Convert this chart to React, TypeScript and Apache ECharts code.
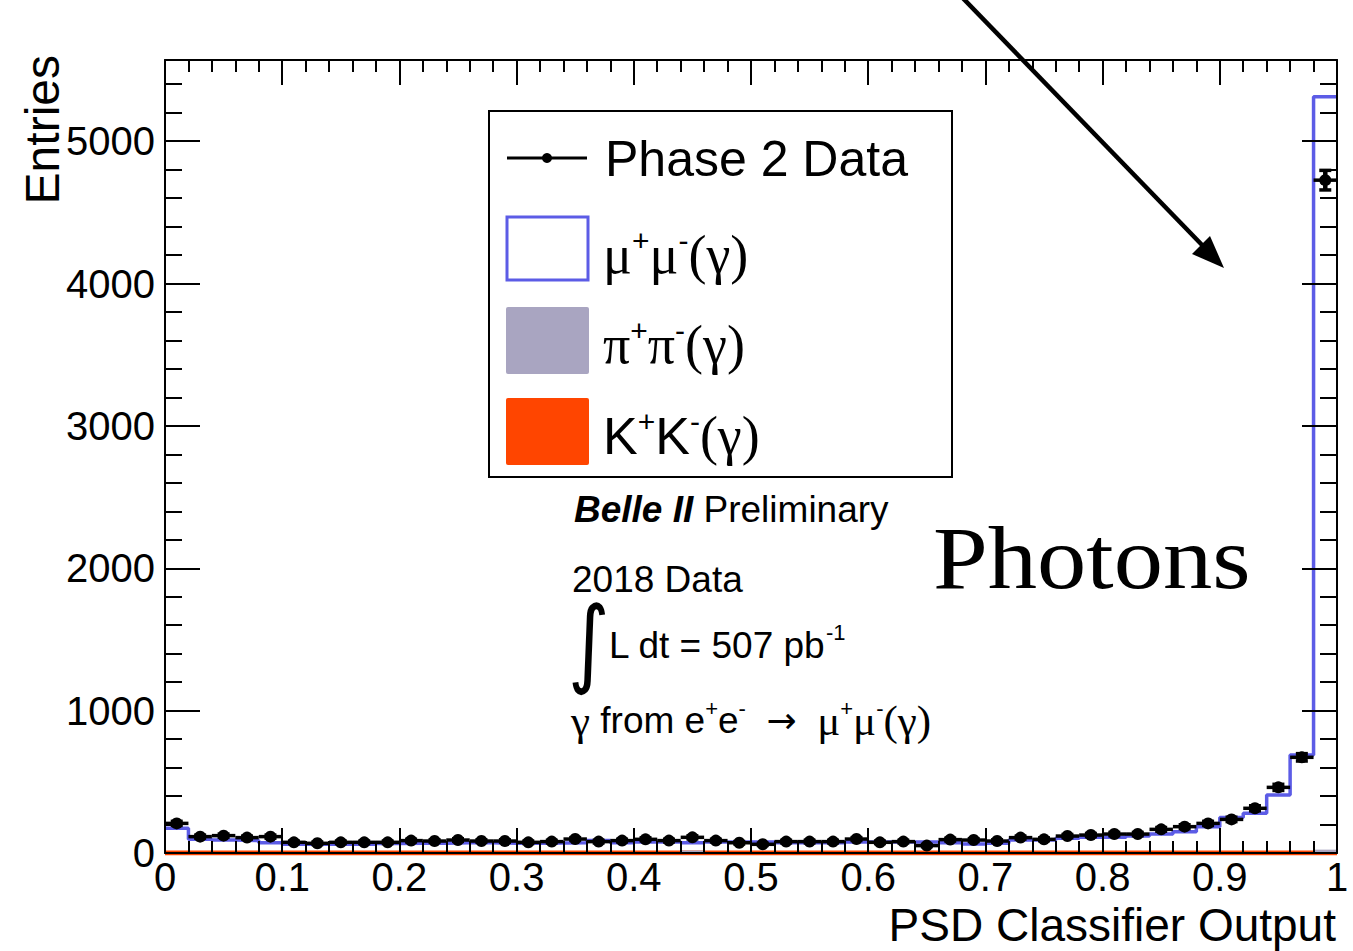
import React, { useEffect, useRef } from 'react';
import * as echarts from 'echarts';

// ---------- data ----------
const BIN_WIDTH = 0.02;
// Phase 2 data, entries per bin (50 bins from 0 to 1)
const dataCounts = [
  208, 115, 122, 108, 115, 75, 68, 75, 75, 75,
  87, 84, 91, 84, 84, 75, 80, 98, 80, 87,
  96, 87, 110, 87, 72, 61, 80, 80, 80, 98,
  75, 80, 52, 94, 91, 84, 108, 96, 119, 126,
  133, 133, 166, 185, 208, 236, 314, 461, 672, 4726,
];
// mu+mu-(gamma) simulation (stacked total, outline)
const mumuCounts = [
  173, 96, 91, 87, 72, 61, 61, 61, 61, 66,
  68, 68, 72, 72, 68, 68, 70, 72, 88, 72,
  77, 77, 72, 77, 77, 77, 72, 72, 72, 77,
  77, 77, 77, 72, 63, 68, 91, 91, 103, 110,
  110, 119, 133, 150, 185, 250, 279, 407, 688, 5311,
];
// pi+pi-(gamma) simulation
const pipiCounts = [
  3, 2, 2, 2, 2, 2, 2, 2, 2, 2,
  2, 2, 2, 2, 2, 2, 2, 2, 2, 2,
  2, 2, 14, 2, 2, 2, 2, 2, 2, 2,
  2, 2, 2, 2, 2, 2, 2, 2, 2, 2,
  2, 2, 2, 2, 2, 2, 2, 3, 4, 20,
];
// K+K-(gamma) simulation
const kkCounts = [
  0, 0, 0, 0, 0, 0, 0, 0, 0, 0,
  0, 0, 0, 0, 0, 0, 0, 0, 0, 0,
  0, 0, 0, 0, 0, 0, 0, 0, 0, 0,
  0, 0, 0, 0, 0, 0, 0, 0, 0, 0,
  0, 0, 0, 0, 0, 0, 0, 0, 0, 0,
];
const X_MIN = 0;
const X_MAX = 1;
const X_TICK = 0.1;
const Y_MIN = 0;
const Y_MAX = 5570;
const Y_TICK = 1000;
const Y_MINOR = 200;

// ---------- styles ----------
const SANS = "'Liberation Sans', Arial, Helvetica, sans-serif";
const SERIF = "'Liberation Serif', 'Times New Roman', serif";
const BLUE = '#5c5ce6';
const GRAY = '#a9a5c1';
const ORANGE = '#ff4500';

function stepPoints(values: number[]) {
  const pts = values.map((v, i) => [i * BIN_WIDTH, v]);
  pts.push([values.length * BIN_WIDTH, values[values.length - 1]]);
  return pts;
}

function makeXAxis(position: 'top' | 'bottom', labels: boolean) {
  return {
    type: 'value',
    min: X_MIN,
    max: X_MAX,
    interval: X_TICK,
    position,
    z: 10,
    axisLine: { show: true, onZero: false, lineStyle: { color: '#000', width: 2 } },
    axisTick: { show: true, inside: true, length: 25, lineStyle: { color: '#000', width: 2 } },
    minorTick: { show: true, splitNumber: 5, length: 12, lineStyle: { color: '#000', width: 2 } },
    splitLine: { show: false },
    minorSplitLine: { show: false },
    axisLabel: {
      show: labels,
      color: '#000',
      fontSize: 40,
      fontFamily: SANS,
      margin: 4,
      formatter: (v: number) => String(v),
    },
  };
}

function makeYAxis(position: 'left' | 'right', interval: number, len: number, labels: boolean, line: boolean) {
  return {
    type: 'value',
    min: Y_MIN,
    max: Y_MAX,
    interval,
    position,
    z: 10,
    axisLine: { show: line, onZero: false, lineStyle: { color: '#000', width: 2 } },
    axisTick: { show: true, inside: true, length: len, lineStyle: { color: '#000', width: 2 } },
    splitLine: { show: false },
    axisLabel: {
      show: labels,
      color: '#000',
      fontSize: 40,
      fontFamily: SANS,
      margin: 10,
      showMaxLabel: false,
      formatter: (v: number) => String(v),
    },
  };
}

export default function App() {
  const ref = useRef<HTMLDivElement>(null);

  useEffect(() => {
    if (!ref.current) return;
    const chart = echarts.init(ref.current, undefined, { renderer: 'svg' });

    const dataPoints = dataCounts.map((v, i) => [(i + 0.5) * BIN_WIDTH, v, Math.sqrt(v)]);

    const option: any = {
      animation: false,
      backgroundColor: '#fff',
      grid: { left: 165, top: 60, right: 16, bottom: 98, containLabel: false },
      xAxis: [makeXAxis('bottom', true), makeXAxis('top', false)],
      yAxis: [
        makeYAxis('left', Y_TICK, 35, true, true),
        makeYAxis('left', Y_MINOR, 17, false, false),
        makeYAxis('right', Y_TICK, 35, false, true),
        makeYAxis('right', Y_MINOR, 17, false, false),
      ],
      series: [
        {
          name: 'K+K-(γ)',
          type: 'line',
          step: 'end',
          data: stepPoints(kkCounts),
          symbol: 'none',
          lineStyle: { color: ORANGE, width: 5 },
          areaStyle: { color: ORANGE, opacity: 1 },
          z: 1,
        },
        {
          name: 'π+π-(γ)',
          type: 'line',
          step: 'end',
          data: stepPoints(pipiCounts),
          symbol: 'none',
          lineStyle: { color: GRAY, width: 1 },
          areaStyle: { color: GRAY, opacity: 1 },
          z: 2,
        },
        {
          name: 'μ+μ-(γ)',
          type: 'line',
          step: 'end',
          data: stepPoints(mumuCounts),
          symbol: 'none',
          lineStyle: { color: BLUE, width: 3.5 },
          z: 3,
        },
        {
          name: 'Phase 2 Data',
          type: 'custom',
          data: dataPoints,
          encode: { x: 0, y: 1 },
          clip: false,
          z: 4,
          renderItem: (params: any, api: any) => {
            const xc = api.value(0);
            const v = api.value(1);
            const e = api.value(2);
            const pC = api.coord([xc, v]);
            const pL = api.coord([xc - BIN_WIDTH / 2, v]);
            const pR = api.coord([xc + BIN_WIDTH / 2, v]);
            const pT = api.coord([xc, v + e]);
            const pB = api.coord([xc, v - e]);
            const st = { stroke: '#000', lineWidth: 3.5 };
            return {
              type: 'group',
              children: [
                { type: 'line', shape: { x1: pL[0], y1: pL[1], x2: pR[0], y2: pR[1] }, style: st },
                { type: 'line', shape: { x1: pT[0], y1: pT[1], x2: pB[0], y2: pB[1] }, style: { stroke: '#000', lineWidth: 4.5 } },
                { type: 'line', shape: { x1: pT[0] - 6, y1: pT[1], x2: pT[0] + 6, y2: pT[1] }, style: st },
                { type: 'line', shape: { x1: pB[0] - 6, y1: pB[1], x2: pB[0] + 6, y2: pB[1] }, style: st },
                { type: 'circle', shape: { cx: pC[0], cy: pC[1], r: 6 }, style: { fill: '#000' } },
              ],
            };
          },
        },
      ],
      graphic: [
        // axis titles
        {
          type: 'text',
          x: 1336,
          y: 925,
          style: {
            text: 'PSD Classifier Output',
            fontSize: 46,
            fontFamily: SANS,
            fill: '#000',
            align: 'right',
            verticalAlign: 'middle',
          },
          z: 10,
        },
        {
          type: 'text',
          x: 42,
          y: 55,
          rotation: Math.PI / 2,
          style: {
            text: 'Entries',
            fontSize: 48,
            fontFamily: SANS,
            fill: '#000',
            align: 'right',
            verticalAlign: 'middle',
          },
          z: 10,
        },
        // legend box
        {
          type: 'rect',
          shape: { x: 489, y: 111, width: 463, height: 366 },
          style: { fill: '#fff', stroke: '#000', lineWidth: 2 },
          z: 10,
        },
        {
          type: 'line',
          shape: { x1: 507, y1: 158, x2: 587, y2: 158 },
          style: { stroke: '#000', lineWidth: 3 },
          z: 11,
        },
        {
          type: 'circle',
          shape: { cx: 547, cy: 158, r: 5 },
          style: { fill: '#000' },
          z: 11,
        },
        {
          type: 'text',
          x: 605,
          y: 159,
          style: {
            text: 'Phase 2 Data',
            fontSize: 50,
            fontFamily: SANS,
            fill: '#000',
            align: 'left',
            verticalAlign: 'middle',
          },
          z: 11,
        },
        {
          type: 'rect',
          shape: { x: 507, y: 217, width: 81, height: 63 },
          style: { fill: '#fff', stroke: BLUE, lineWidth: 3 },
          z: 11,
        },
        {
          type: 'text',
          x: 603,
          y: 255,
          style: {
            text: '{g|μ}{p|+}{g|μ}{p|-}{g|(γ)}',
            align: 'left',
            verticalAlign: 'middle',
            fill: '#000',
            rich: {
              g: { fontFamily: SERIF, fontSize: 54, lineHeight: 60, fill: '#000' },
              p: { fontFamily: SANS, fontSize: 30, lineHeight: 34, verticalAlign: 'top', fill: '#000' },
            },
          },
          z: 11,
        },
        {
          type: 'rect',
          shape: { x: 506, y: 307, width: 83, height: 67, r: 2 },
          style: { fill: GRAY },
          z: 11,
        },
        {
          type: 'text',
          x: 603,
          y: 345,
          style: {
            text: '{g|π}{p|+}{g|π}{p|-}{g|(γ)}',
            align: 'left',
            verticalAlign: 'middle',
            fill: '#000',
            rich: {
              g: { fontFamily: SERIF, fontSize: 54, lineHeight: 60, fill: '#000' },
              p: { fontFamily: SANS, fontSize: 30, lineHeight: 34, verticalAlign: 'top', fill: '#000' },
            },
          },
          z: 11,
        },
        {
          type: 'rect',
          shape: { x: 506, y: 398, width: 83, height: 67, r: 2 },
          style: { fill: ORANGE },
          z: 11,
        },
        {
          type: 'text',
          x: 603,
          y: 436,
          style: {
            text: '{k|K}{p|+}{k|K}{p|-}{g|(γ)}',
            align: 'left',
            verticalAlign: 'middle',
            fill: '#000',
            rich: {
              k: { fontFamily: SANS, fontSize: 52, lineHeight: 60, fill: '#000' },
              g: { fontFamily: SERIF, fontSize: 54, lineHeight: 60, fill: '#000' },
              p: { fontFamily: SANS, fontSize: 30, lineHeight: 34, verticalAlign: 'top', fill: '#000' },
            },
          },
          z: 11,
        },
        // annotations
        {
          type: 'text',
          x: 574,
          y: 509,
          style: {
            text: '{b|Belle II} {r|Preliminary}',
            align: 'left',
            verticalAlign: 'middle',
            fontSize: 37,
            fontFamily: SANS,
            fill: '#000',
            rich: {
              b: { fontFamily: SANS, fontSize: 37, fontWeight: 'bold', fontStyle: 'italic', fill: '#000' },
              r: { fontFamily: SANS, fontSize: 37, fill: '#000' },
            },
          },
          z: 11,
        },
        {
          type: 'text',
          x: 572,
          y: 579,
          style: {
            text: '2018 Data',
            fontSize: 37,
            fontFamily: SANS,
            fill: '#000',
            align: 'left',
            verticalAlign: 'middle',
          },
          z: 11,
        },
        {
          type: 'text',
          x: 568,
          y: 642,
          scaleY: 1.2,
          style: {
            text: '∫',
            fontSize: 80,
            fontFamily: "'DejaVu Sans', sans-serif",
            fill: '#000',
            align: 'left',
            verticalAlign: 'middle',
          },
          z: 11,
        },
        {
          type: 'text',
          x: 609,
          y: 645,
          style: {
            text: '{s|L dt = 507 pb}{p|-1}',
            align: 'left',
            verticalAlign: 'middle',
            fill: '#000',
            rich: {
              s: { fontFamily: SANS, fontSize: 37, lineHeight: 48, fill: '#000' },
              p: { fontFamily: SANS, fontSize: 22, lineHeight: 24, verticalAlign: 'top', fill: '#000' },
            },
          },
          z: 11,
        },
        {
          type: 'text',
          x: 571,
          y: 720,
          style: {
            text: '{g|γ}{s| from e}{p|+}{s|e}{p|-}{s|  }{a|→}{s|  }{g|μ}{p|+}{g|μ}{p|-}{g|(γ)}',
            align: 'left',
            verticalAlign: 'middle',
            fill: '#000',
            rich: {
              g: { fontFamily: SERIF, fontSize: 43, lineHeight: 46, fill: '#000' },
              a: { fontFamily: "'DejaVu Sans', sans-serif", fontSize: 36, lineHeight: 46, fill: '#000' },
              s: { fontFamily: SANS, fontSize: 37, lineHeight: 46, fill: '#000' },
              p: { fontFamily: SANS, fontSize: 22, lineHeight: 26, verticalAlign: 'top', fill: '#000' },
            },
          },
          z: 11,
        },
        {
          type: 'text',
          x: 933,
          y: 558,
          scaleX: 1.12,
          style: {
            text: 'Photons',
            fontSize: 88,
            fontFamily: SERIF,
            fill: '#000',
            align: 'left',
            verticalAlign: 'middle',
          },
          z: 11,
        },
        // arrow
        {
          type: 'line',
          shape: { x1: 955, y1: -10, x2: 1204, y2: 247 },
          style: { stroke: '#000', lineWidth: 4.5 },
          z: 11,
        },
        {
          type: 'polygon',
          shape: { points: [[1224, 268], [1192, 254], [1210, 236]] },
          style: { fill: '#000' },
          z: 11,
        },
      ],
    };

    chart.setOption(option);
    return () => chart.dispose();
  }, []);

  return (
    <div
      ref={ref}
      style={{ position: 'absolute', left: 0, top: 0, width: 1353, height: 951, background: '#fff' }}
    />
  );
}
